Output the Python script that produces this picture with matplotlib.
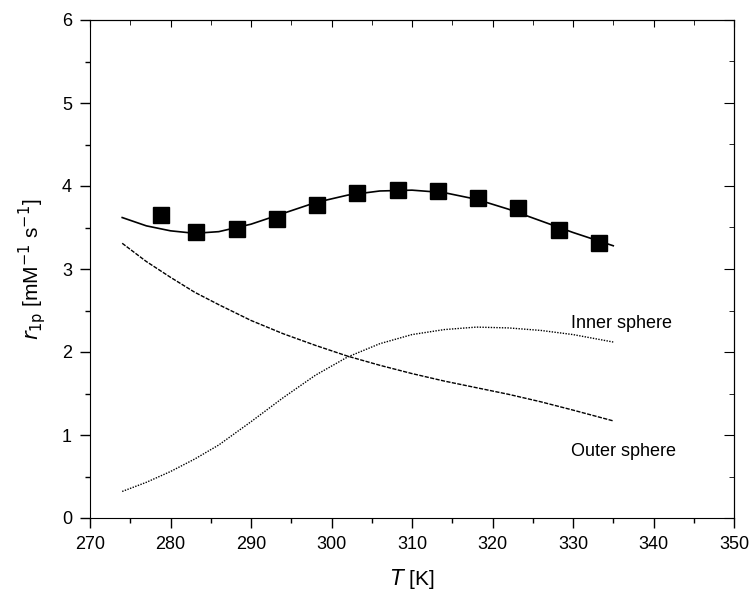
import matplotlib
matplotlib.use("Agg")
import matplotlib.pyplot as plt
import numpy as np
from matplotlib.ticker import MultipleLocator, NullFormatter

plt.rcParams['font.family'] = ['Liberation Sans', 'DejaVu Sans']

# measured relaxivities
T_meas = [278.8, 283.2, 288.2, 293.2, 298.2, 303.2, 308.2, 313.2, 318.2, 323.2, 328.2, 333.2]
r1p_meas = [3.65, 3.44, 3.48, 3.60, 3.77, 3.91, 3.95, 3.94, 3.85, 3.73, 3.47, 3.31]

# fitted curves
T_fit = [274, 277, 280, 283, 286, 290, 294, 298, 302, 306, 310, 314, 318, 322, 326, 330, 335]
r1p_total = [3.62, 3.52, 3.46, 3.43, 3.45, 3.54, 3.67, 3.80, 3.89, 3.94, 3.95, 3.92, 3.84, 3.72, 3.58, 3.44, 3.28]
r1p_outer = [3.31, 3.09, 2.90, 2.72, 2.57, 2.38, 2.22, 2.08, 1.95, 1.84, 1.74, 1.65, 1.57, 1.49, 1.40, 1.30, 1.17]
r1p_inner = [0.32, 0.43, 0.56, 0.71, 0.88, 1.16, 1.45, 1.72, 1.94, 2.10, 2.21, 2.27, 2.30, 2.29, 2.26, 2.21, 2.12]

fig = plt.figure(figsize=(7.49, 5.97), dpi=100)
ax = fig.add_axes([90/749, 1-518/597, 644/749, 498/597])

ax.plot(T_fit, r1p_total, color='black', lw=1.2)
ax.plot(T_fit, r1p_outer, color='black', lw=1.0, linestyle=(0, (3, 1)))
ax.plot(T_fit, r1p_inner, color='black', lw=1.0, linestyle=(0, (1, 1)))
ax.plot(T_meas, r1p_meas, 's', color='black', ms=11, zorder=3)

ax.text(329.8, 2.34, 'Inner sphere', fontsize=13, va='center')
ax.text(329.8, 0.80, 'Outer sphere', fontsize=13, va='center')

ax.set_xlim(270, 350)
ax.set_ylim(0, 6)
ax.xaxis.set_major_locator(MultipleLocator(10))
ax.xaxis.set_minor_locator(MultipleLocator(5))
ax.yaxis.set_major_locator(MultipleLocator(1))
ax.yaxis.set_minor_locator(MultipleLocator(0.5))
ax.tick_params(which='both', direction='out', labelsize=13, pad=6, width=1)
ax.tick_params(which='major', length=7)
ax.tick_params(which='minor', length=3.6)

# inward ticks on top and right
top = ax.secondary_xaxis('top')
top.xaxis.set_major_locator(MultipleLocator(10))
top.xaxis.set_minor_locator(MultipleLocator(5))
top.xaxis.set_major_formatter(NullFormatter())
top.tick_params(which='both', direction='in')
top.tick_params(which='major', length=5)
top.tick_params(which='minor', length=3.6)
right = ax.secondary_yaxis('right')
right.yaxis.set_major_locator(MultipleLocator(1))
right.yaxis.set_minor_locator(MultipleLocator(0.5))
right.yaxis.set_major_formatter(NullFormatter())
right.tick_params(which='both', direction='in')
right.tick_params(which='major', length=7)
right.tick_params(which='minor', length=3.6)

ax.set_xlabel(r'$\it{T}$ [K]', fontsize=15, labelpad=10)
ax.set_ylabel(r'$\it{r}_{\rm 1p}$ [mM$^{-1}$ s$^{-1}$]', fontsize=15, labelpad=10)

fig.savefig('out.png', dpi=100)
